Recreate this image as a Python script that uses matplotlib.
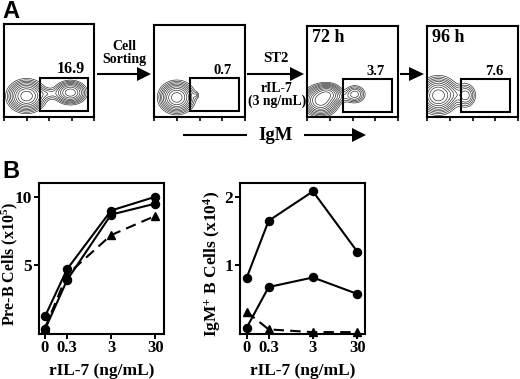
import numpy as np
import matplotlib
matplotlib.use("Agg")
import matplotlib.pyplot as plt
from matplotlib.patches import Rectangle, Polygon

plt.rcParams['font.family'] = ['Liberation Serif', 'DejaVu Serif']
plt.rcParams['font.weight'] = 'bold'
plt.rcParams['axes.labelweight'] = 'bold'
plt.rcParams['mathtext.fontset'] = 'custom'
plt.rcParams['mathtext.bf'] = 'Liberation Serif:bold'
plt.rcParams['mathtext.rm'] = 'Liberation Serif:bold'
plt.rcParams['mathtext.default'] = 'bf'

# ----- data -----
doses = ['0', '0.3', '3', '30']
dose_pos = [0, 0.5, 1.5, 2.5]

preb_a = [1.25, 4.7, 9.0, 10.0]
preb_b = [0.3, 3.9, 8.7, 9.5]
preb_tri = [0.4, 4.3, 7.2, 8.6]

igm_a = [0.81, 1.65, 2.08, 1.2]
igm_b = [0.08, 0.68, 0.82, 0.58]
igm_tri = [0.32, 0.06, 0.02, 0.02]

gate_labels = ['16.9', '0.7', '3.7', '7.6']
time_labels = ['', '', '72 h', '96 h']

# blobs: x, y, sx, sy, amplitude
blobs_1 = [(1.0, 0.9, 0.38, 0.31, 1.0), (2.95, 1.05, 0.33, 0.23, 0.75), (1.95, 1.0, 0.3, 0.14, 0.12)]
blobs_2 = [(1.0, 0.85, 0.35, 0.31, 1.0), (1.85, 0.95, 0.08, 0.09, 0.08)]
blobs_3 = [(0.6, 0.72, 0.35, 0.3, 1.0), (2.1, 1.0, 0.24, 0.2, 0.3), (1.4, 0.85, 0.3, 0.14, 0.1), (0.95, 1.05, 0.28, 0.2, 0.5)]
blobs_4 = [(0.5, 0.95, 0.38, 0.36, 1.0), (1.7, 0.95, 0.23, 0.27, 0.3), (1.15, 1.0, 0.2, 0.2, 0.1)]
flow_blobs = [blobs_1, blobs_2, blobs_3, blobs_4]

# ----- layout in pixels -----
W, H = 520, 379
flow_boxes = [(4, 24, 94, 117), (154, 25, 245, 117), (307, 26, 398, 117), (427, 26, 518, 117)]
gate_boxes = [(40, 78, 88, 111), (190, 78, 239, 111), (343, 79, 392, 112), (461, 79, 510, 112)]

fig = plt.figure(figsize=(W / 100, H / 100), dpi=100)

def make_axes(l, t, r, b):
    return fig.add_axes([l / W, 1 - b / H, (r - l) / W, (b - t) / H])

# overlay in pixel coordinates, for arrows and free text
ov = fig.add_axes([0, 0, 1, 1], zorder=5)
ov.set_xlim(0, W)
ov.set_ylim(H, 0)
ov.axis('off')

def arrow(x0, x1, y, head=14, hh=7):
    ov.plot([x0, x1 - head + 1], [y, y], color='k', lw=1.5, solid_capstyle='butt')
    ov.add_patch(Polygon([(x1 - head, y - hh), (x1, y), (x1 - head, y + hh)], closed=True, fc='k', ec='none'))

gx, gy = np.meshgrid(np.linspace(0, 4, 300), np.linspace(0, 4, 300))

# =========================
# A. flow plots
# =========================
for i in range(4):
    l, t, r, b = flow_boxes[i]
    ax = make_axes(l, t, r, b)
    ax.set_xlim(0, 4)
    ax.set_ylim(0, 4)
    z = np.zeros_like(gx)
    for x0, y0, sx, sy, amp in flow_blobs[i]:
        z = z + amp * np.exp(-0.5 * ((gx - x0) / sx) ** 2 - 0.5 * ((gy - y0) / sy) ** 2)
    ax.contour(gx, gy, z, levels=[0.05, 0.08, 0.12, 0.17, 0.24, 0.33, 0.45, 0.6, 0.8],
               colors='#222222', linewidths=0.45)
    gl, gt, gr, gb = gate_boxes[i]
    ax.add_patch(Rectangle(((gl - l) / (r - l) * 4, (b - gb) / (b - t) * 4),
                           (gr - gl) / (r - l) * 4, (gb - gt) / (b - t) * 4,
                           fc='none', ec='k', lw=1.5))
    ax.set_xticks([0, 1, 2, 3, 4])
    ax.set_xticklabels([])
    ax.set_yticks([])
    ax.tick_params(axis='x', length=3, width=1.2)
    for s in ax.spines.values():
        s.set_linewidth(1.5)
    ov.text(gr - 3 if i == 0 else gr - 7, gt - 1, gate_labels[i], ha='right', va='bottom', fontsize=11.5 if i == 0 else 10.5)
    if time_labels[i]:
        ov.text(l + 5, t + 11, time_labels[i], ha='left', va='center', fontsize=13)

arrow(97, 151, 74)
arrow(247, 304, 74)
arrow(400, 424, 74, head=15)
ov.plot([183, 247], [135, 135], color='k', lw=1.5, solid_capstyle='butt')
arrow(304, 366, 135)

ov.text(124, 53, 'Cell\nSorting', ha='center', va='center', fontsize=10, linespacing=1.0)
ov.text(276, 58, 'ST2', ha='center', va='center', fontsize=10.5)
ov.text(277, 95, 'rIL-7\n(3 ng/mL)', ha='center', va='center', fontsize=9.8, linespacing=1.0)
ov.text(276, 135, 'IgM', ha='center', va='center', fontsize=13.5)

for lab, y in (('A', 11), ('B', 171)):
    ov.text(2, y, lab, ha='left', va='center', fontsize=17, family='Liberation Sans', weight='bold')

# =========================
# B. dose response
# =========================
def dose_panel(box, a, b, tri, ymax, yticks, ylab, xlim, label_x, label_size):
    ax = make_axes(*box)
    ax.plot(dose_pos, a, '-o', color='k', lw=1.5, ms=5.8, clip_on=False, zorder=3)
    ax.plot(dose_pos, b, '-o', color='k', lw=1.5, ms=5.8, clip_on=False, zorder=3)
    ax.plot(dose_pos, tri, '--^', color='k', lw=1.5, ms=5.8, dashes=(5, 3), clip_on=False, zorder=3)
    ax.set_xlim(*xlim)
    ax.set_ylim(0, ymax)
    ax.set_xticks(dose_pos)
    ax.set_xticklabels(doses, fontsize=12)
    ax.set_yticks(yticks)
    ax.set_yticklabels([str(v) for v in yticks], fontsize=12.5)
    ax.tick_params(axis='both', length=3.5, width=1.4, pad=1.5)
    for s in ax.spines.values():
        s.set_linewidth(1.5)
    ax.set_xlabel('rIL-7 (ng/mL)', fontsize=12.5, labelpad=5)
    ov.text(label_x, (box[1] + box[3]) / 2 + 6, ylab, rotation=90, ha='center', va='center', fontsize=label_size)
    return ax

dose_panel((39, 182.5, 163.5, 333.5), preb_a, preb_b, preb_tri, 11.05, [5, 10],
           'Pre-B Cells (x10$^{5}$)', (-0.136, 2.69), 9.5, 11.5)
dose_panel((240, 182.5, 364.5, 333.5), igm_a, igm_b, igm_tri, 2.21, [1, 2],
           'IgM$^{+}$ B Cells (x10$^{4}$)', (-0.147, 2.665), 212, 12.5)

fig.savefig('out.png', dpi=100)
